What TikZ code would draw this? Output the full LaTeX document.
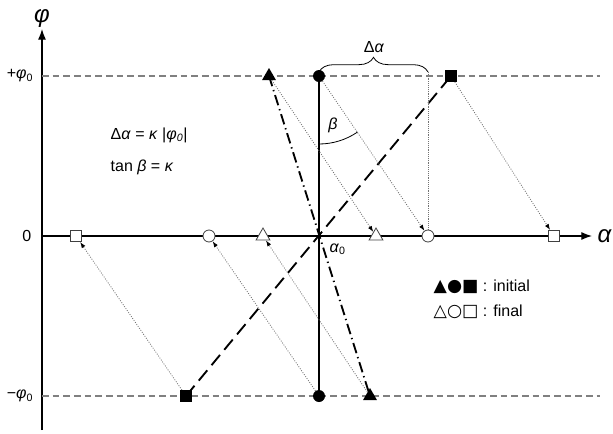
\documentclass[tikz,border=0pt]{standalone}
\usepackage{fontspec}
\setmainfont{Liberation Sans}
\newfontfamily\symfont{DejaVu Sans}
\usetikzlibrary{arrows.meta,shapes.geometric,decorations.pathreplacing,backgrounds}

\begin{document}
\begin{tikzpicture}[
  x=0.75pt,y=0.75pt,
  every node/.style={font=\fontsize{12}{14}\selectfont},
  big/.style={font=\fontsize{18}{20}\selectfont},
  axis/.style={-{Latex[length=8pt,width=6pt]},line width=0.9pt},
  level/.style={gray,line width=0.8pt,dash pattern=on 5pt off 3pt},
  ini/.style={fill=black,inner sep=0pt},
  fin/.style={draw=black!75,fill=white,line width=0.6pt,inner sep=0pt},
  tri/.style={regular polygon,regular polygon sides=3,minimum size=12pt},
  rnd/.style={circle,minimum size=9pt},
  sq/.style={rectangle,minimum size=8.5pt},
  shiftline/.style={black!55,line width=0.6pt,dash pattern=on 0.7pt off 1.1pt,
    -{Latex[length=4.5pt,width=3.2pt,color=black]}},
  vdots/.style={black!55,line width=0.6pt,dash pattern=on 0.6pt off 0.8pt},
  brace/.style={decorate,decoration={brace,amplitude=11pt},line width=0.6pt}
]
  \useasboundingbox (-319,-197) rectangle (294,236);

  % axes and the two levels
  \draw[axis] (-277,-194) -- (-277,207);
  \draw[axis] (-277,0) -- (273,0);
  \draw[level] (-277,160) -- (281,160);
  \draw[level] (-277,-160) -- (281,-160);
  \node[big] (phiL) at (-277,217) {\textit{φ}};
  \node[big,anchor=west] (alphaL) at (274,0) {\textit{α}};
  \node[anchor=east] (pP) at (-281,160) {+\textit{φ}\textsubscript{0}};
  \node[anchor=east] (pZ) at (-283,0) {0};
  \node[anchor=east] (pM) at (-281,-160) {−\textit{φ}\textsubscript{0}};
  \node[anchor=north west] (a0) at (6,-3) {\textit{α}\textsubscript{0}};

  % initial markers
  \node[ini,tri] (tA) at (-50,160) {};
  \node[ini,rnd] (cA) at (0,160) {};
  \node[ini,sq] (sA) at (132,160) {};
  \node[ini,sq] (sB) at (-133,-160) {};
  \node[ini,rnd] (cB) at (0,-160) {};
  \node[ini,tri] (tB) at (51,-160) {};

  % final markers
  \node[fin,sq] (sBf) at (-243,0) {};
  \node[fin,rnd] (cBf) at (-110,0) {};
  \node[fin,tri] (tBf) at (-56,0) {};
  \node[fin,tri] (tAf) at (57,0) {};
  \node[fin,rnd] (cAf) at (109,0) {};
  \node[fin,sq] (sAf) at (235,0) {};

  \coordinate (bL) at (0,164);
  \coordinate (bR) at (109,164);

  \begin{scope}[on background layer]
    \draw[line width=1.4pt] (cA.center) -- (cB.center);
    \draw[line width=1.4pt,dash pattern=on 10pt off 5pt] (sB.center) -- (sA.center);
    \draw[line width=1.4pt,dash pattern=on 8pt off 3pt on 1pt off 3pt] (tA.center) -- (tB.center);
    \draw[shiftline] (tA) -- (tAf);
    \draw[shiftline] (cA) -- (cAf);
    \draw[shiftline] (sA) -- (sAf);
    \draw[shiftline] (sB) -- (sBf);
    \draw[shiftline] (cB) -- (cBf);
    \draw[shiftline] (tB) -- (tBf);
    \draw[vdots] (bR) -- (cAf);
  \end{scope}

  % shift and angle
  \draw[brace] (bL) -- (bR);
  \node (dA) at (55,189) {Δ\textit{α}};
  \draw[line width=0.6pt] (0,92) arc[start angle=-90,end angle=-55.5,radius=68];
  \node (beta) at (14,111) {\textit{β}};

  \node[anchor=west] (eq1) at (-213,101) {Δ\textit{α} = \textit{κ} |\textit{φ}\textsubscript{\textit{0}}|};
  \node[anchor=west] (eq2) at (-213,69) {tan \textit{β} = \textit{κ}};

  % legend
  \node[anchor=west] (leg1) at (110,-51) {{\symfont\fontsize{13}{14}\selectfont ▲●■} : initial};
  \node[anchor=west] (leg2) at (110,-76) {{\symfont\fontsize{13}{14}\selectfont △○□} : final};
\end{tikzpicture}
\end{document}
